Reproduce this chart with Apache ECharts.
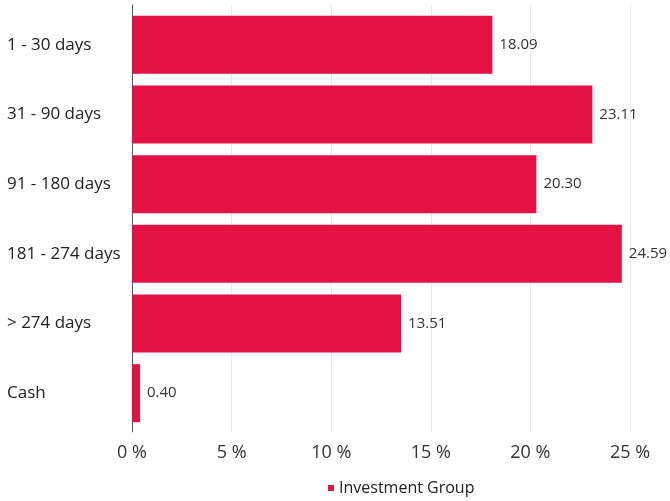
<!DOCTYPE html>
<html>
<head>
<meta charset="utf-8">
<script src="https://cdn.jsdelivr.net/npm/echarts@6/dist/echarts.min.js"></script>
<style>html,body{margin:0;padding:0;background:#fff}#c{width:670px;height:501px}</style>
</head>
<body>
<div id="c"></div>
<script>
var categories = ["1 - 30 days", "31 - 90 days", "91 - 180 days", "181 - 274 days", "> 274 days", "Cash"];
var values = [18.09, 23.11, 20.30, 24.59, 13.51, 0.40];
var seriesName = "Investment Group";
var xTicks = [0, 5, 10, 15, 20, 25];

var chart = echarts.init(document.getElementById('c'));
var font = '"Open Sans", "Noto Sans", sans-serif';
var xMin = xTicks[0], xMax = xTicks[xTicks.length-1];
chart.setOption({
  animation: false,
  textStyle: {fontFamily: font},
  grid: [
    {left: 132, right: 40, top: 5, bottom: 69},
    {left: 132, right: 40, top: 10, bottom: 73}
  ],
  legend: {
    data: [seriesName],
    left: 323, top: 475,
    icon: 'rect', itemWidth: 6, itemHeight: 6, itemGap: 6,
    textStyle: {fontFamily: font, fontSize: 16, color: '#222'}
  },
  xAxis: [{
    gridIndex: 0, type: 'value', min: xMin, max: xMax, interval: 5,
    axisLine: {show: false}, axisTick: {show: false},
    splitLine: {lineStyle: {color: '#e8e8e8', width: 1}},
    axisLabel: {formatter: '{value} %', fontSize: 18, color: '#333', margin: 12, fontFamily: font}
  }, {
    gridIndex: 1, type: 'value', min: xMin, max: xMax, interval: 5, show: false,
    splitLine: {show: false}
  }],
  yAxis: [{
    gridIndex: 0, type: 'value', min: 0, max: 1,
    axisLine: {show: true, lineStyle: {color: '#555', width: 1}},
    axisTick: {show: false}, axisLabel: {show: false}, splitLine: {show: false}
  }, {
    gridIndex: 1, type: 'category', data: categories, inverse: true,
    axisLine: {show: false},
    axisTick: {show: false},
    axisLabel: {align: 'left', margin: 125, fontSize: 17, color: '#222', fontFamily: font}
  }],
  series: [{
    name: seriesName, type: 'bar', data: values, barWidth: 58,
    xAxisIndex: 1, yAxisIndex: 1,
    itemStyle: {color: '#E31245'},
    label: {show: true, position: 'right', distance: 7, fontSize: 15, color: '#333', fontFamily: font,
      formatter: function(p){ return p.value.toFixed(2); }}
  }]
});
</script>
</body>
</html>
